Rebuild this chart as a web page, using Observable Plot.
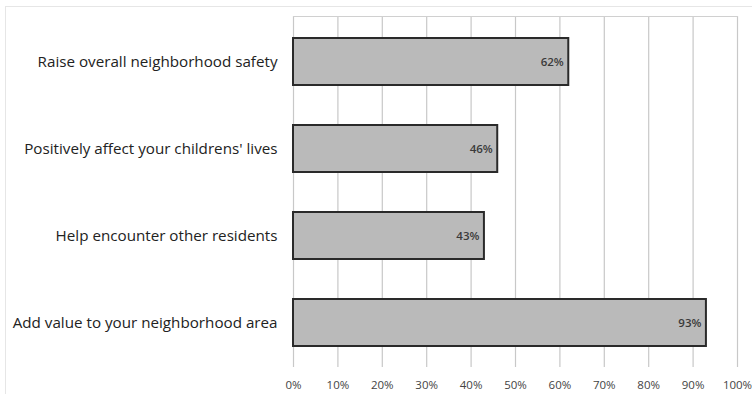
<!DOCTYPE html>
<html>
<head>
<meta charset="utf-8">
<script src="https://cdn.jsdelivr.net/npm/d3@7"></script>
<script src="https://cdn.jsdelivr.net/npm/@observablehq/plot@0.6"></script>
<style>
  html, body { margin: 0; padding: 0; background: #fff; }
  #wrap { position: relative; width: 752px; height: 394px; overflow: hidden; }
  #border { position: absolute; left: 5px; top: 6px; width: 760px; height: 400px; border: 1px solid #e6e6e6; box-sizing: border-box; pointer-events: none; }
  #chart { position: absolute; left: 0; top: 0; }
</style>
</head>
<body>
<div id="wrap"><div id="border"></div><div id="chart"></div></div>
<script>
const categories = [
  "Raise overall neighborhood safety",
  "Positively affect your childrens' lives",
  "Help encounter other residents",
  "Add value to your neighborhood area"
];
const values = [0.62, 0.46, 0.43, 0.93];
const xTicks = [0, 0.1, 0.2, 0.3, 0.4, 0.5, 0.6, 0.7, 0.8, 0.9, 1.0];

const data = categories.map((c, i) => ({category: c, value: values[i]}));
const pct = d3.format(".0%");

const plot = Plot.plot({
  width: 752,
  height: 394,
  marginLeft: 293,
  marginRight: 15,
  marginTop: 16,
  marginBottom: 27,
  style: {fontFamily: "'Open Sans', sans-serif", background: "transparent"},
  x: {domain: [0, 1], ticks: xTicks, tickFormat: pct},
  y: {domain: categories, paddingInner: 0.46, paddingOuter: 0.23},
  marks: [
    Plot.gridX(xTicks, {stroke: "#c8c8c8", strokeOpacity: 1, strokeWidth: 1.2}),
    Plot.frame({anchor: "top", stroke: "#d0d0d0"}),
    Plot.barX(data, {x: "value", y: "category", fill: "#bababa", stroke: "#2a2a2a", strokeWidth: 2}),
    Plot.text(data, {x: "value", y: "category", text: d => pct(d.value), textAnchor: "end", dx: -5, fontSize: 11.5, fontWeight: 600, fill: "#3a3a3a"}),
    Plot.axisX(xTicks, {tickSize: 0, tickPadding: 13, tickFormat: pct, fontSize: 11.5, fill: "#444", label: null}),
    Plot.axisY({tickSize: 0, tickPadding: 16, fontSize: 15.2, fill: "#222", label: null})
  ]
});
document.getElementById("chart").appendChild(plot);
</script>
</body>
</html>
